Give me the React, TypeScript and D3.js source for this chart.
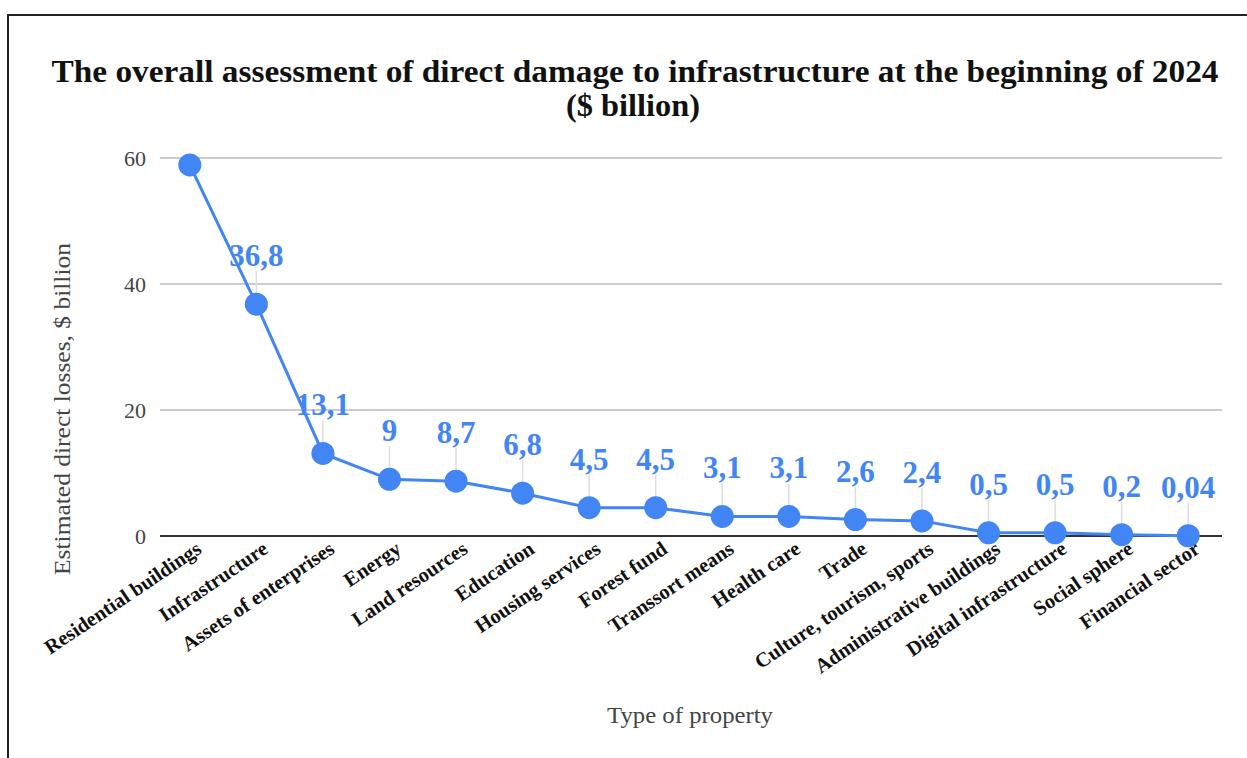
import React from "react";
import * as d3 from "d3";

const categories = [
  "Residential buildings",
  "Infrastructure",
  "Assets of enterprises",
  "Energy",
  "Land resources",
  "Education",
  "Housing services",
  "Forest fund",
  "Transsort means",
  "Health care",
  "Trade",
  "Culture, tourism, sports",
  "Administrative buildings",
  "Digital infrastructure",
  "Social sphere",
  "Financial sector",
];
const values = [58.9, 36.8, 13.1, 9, 8.7, 6.8, 4.5, 4.5, 3.1, 3.1, 2.6, 2.4, 0.5, 0.5, 0.2, 0.04];
const showLabel = [false, true, true, true, true, true, true, true, true, true, true, true, true, true, true, true];
const yTicks = [0, 20, 40, 60];
const titleLines = [
  "The overall assessment of direct damage to infrastructure at the beginning of 2024",
  "($ billion)",
];
const yAxisTitle = "Estimated direct losses, $ billion";
const xAxisTitle = "Type of property";

const W = 1247;
const H = 758;
const BLUE = "#4285F4";
const SERIF = "'Liberation Serif', 'Times New Roman', serif";

export default function App() {
  const x = d3.scalePoint<string>().domain(categories).range([156.5, 1221.5]).padding(0.5);
  const y = d3.scaleLinear().domain([0, 60]).range([536, 158]);
  const gridX0 = 160;
  const gridX1 = 1222;

  const line = d3
    .line<number>()
    .x((_, i) => x(categories[i]) as number)
    .y((d) => y(d));

  const fmt = (v: number) => String(v).replace(".", ",");

  return (
    <svg
      width={W}
      height={H}
      viewBox={`0 0 ${W} ${H}`}
      style={{ position: "absolute", left: 0, top: 0, background: "#fff" }}
    >
      <rect x={0} y={0} width={W} height={H} fill="#fff" />
      {/* frame */}
      <line x1={7} y1={15} x2={W} y2={15} stroke="#222" strokeWidth={2} />
      <line x1={8} y1={14} x2={8} y2={H} stroke="#222" strokeWidth={2} />

      {/* title */}
      <text
        x={635}
        y={82}
        textAnchor="middle"
        fontFamily={SERIF}
        fontWeight="bold"
        fontSize={31}
        fill="#111"
        textLength={1167}
        lengthAdjust="spacingAndGlyphs"
      >
        {titleLines[0]}
      </text>
      <text
        x={633}
        y={116}
        textAnchor="middle"
        fontFamily={SERIF}
        fontWeight="bold"
        fontSize={31}
        fill="#111"
        textLength={134}
        lengthAdjust="spacingAndGlyphs"
      >
        {titleLines[1]}
      </text>

      {/* gridlines */}
      {yTicks.map((t) => (
        <g key={t}>
          <line
            x1={gridX0}
            x2={gridX1}
            y1={y(t)}
            y2={y(t)}
            stroke={t === 0 ? "#333" : "#ccc"}
            strokeWidth={2}
          />
          <text
            x={146}
            y={y(t)}
            dy="0.35em"
            textAnchor="end"
            fontFamily={SERIF}
            fontSize={22}
            fill="#444"
          >
            {t}
          </text>
        </g>
      ))}

      {/* y axis title */}
      <text
        transform={`translate(70, 409) rotate(-90)`}
        textAnchor="middle"
        fontFamily={SERIF}
        fontSize={23}
        fill="#444"
        textLength={332}
        lengthAdjust="spacingAndGlyphs"
      >
        {yAxisTitle}
      </text>

      {/* leader lines */}
      {values.map((v, i) =>
        showLabel[i] ? (
          <line
            key={"l" + i}
            x1={x(categories[i])}
            x2={x(categories[i])}
            y1={y(v) - 33}
            y2={y(v)}
            stroke="#ddd"
            strokeWidth={1.5}
          />
        ) : null
      )}

      {/* series line */}
      <path d={line(values) || ""} fill="none" stroke={BLUE} strokeWidth={3} />
      {values.map((v, i) => (
        <circle key={"c" + i} cx={x(categories[i])} cy={y(v)} r={11.5} fill={BLUE} />
      ))}

      {/* data labels */}
      {values.map((v, i) =>
        showLabel[i] ? (
          <text
            key={"t" + i}
            x={x(categories[i])}
            y={y(v) - 38}
            textAnchor="middle"
            fontFamily={SERIF}
            fontWeight="bold"
            fontSize={31}
            fill={BLUE}
          >
            {fmt(v)}
          </text>
        ) : null
      )}

      {/* x tick labels */}
      {categories.map((c) => (
        <text
          key={c}
          transform={`translate(${(x(c) as number) + 13}, 552) rotate(-34)`}
          textAnchor="end"
          fontFamily={SERIF}
          fontWeight="bold"
          fontSize={20.5}
          fill="#111"
        >
          {c}
        </text>
      ))}

      {/* x axis title */}
      <text
        x={690}
        y={723}
        textAnchor="middle"
        fontFamily={SERIF}
        fontSize={24}
        fill="#444"
        textLength={166}
        lengthAdjust="spacingAndGlyphs"
      >
        {xAxisTitle}
      </text>
    </svg>
  );
}
